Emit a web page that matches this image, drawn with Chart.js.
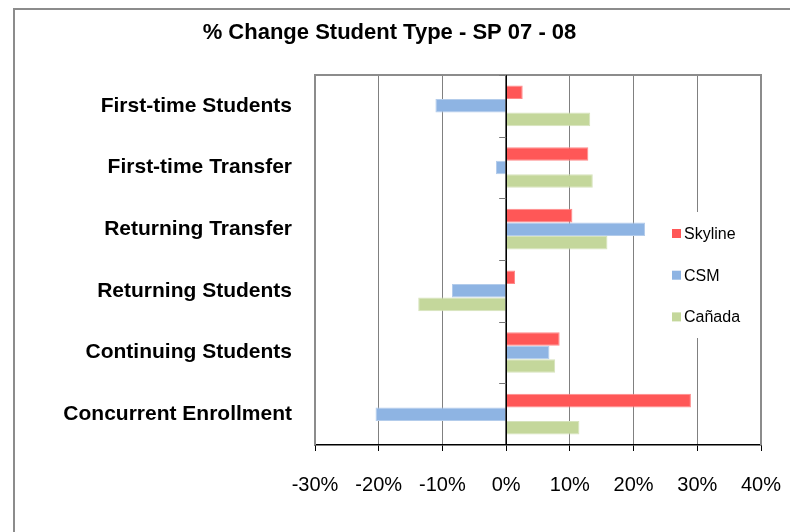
<!DOCTYPE html>
<html><head><meta charset="utf-8">
<script src="https://cdn.jsdelivr.net/npm/chart.js@4"></script>
<style>html,body{margin:0;padding:0;background:#fff}#wrap{width:790px;height:532px}</style>
</head><body><div id="wrap"><canvas id="c" width="790" height="532"></canvas></div>
<script>
const categories = ['First-time Students','First-time Transfer','Returning Transfer','Returning Students','Continuing Students','Concurrent Enrollment'];
const seriesNames = ['Skyline','CSM','Cañada'];
const skyline = [2.6, 12.9, 10.4, 1.4, 8.4, 29.0];
const csm = [-11.1, -1.6, 21.8, -8.5, 6.8, -20.5];
const canada = [13.2, 13.6, 15.9, -13.8, 7.7, 11.5];
const xTickMin = -30, xTickMax = 40, xTickStep = 10;
const titleText = '% Change Student Type - SP 07 - 08';

const FONT = '"Liberation Sans", Arial, sans-serif';
const colors = ['#FF5757', '#8EB4E3', '#C4D79B'];
const borders = ['#FF8A8A', '#B3CCEB', '#D6E3BC'];

const decor = {
  id: 'decor',
  beforeDraw(chart) {
    const ctx = chart.ctx;
    ctx.save();
    ctx.fillStyle = '#fff';
    ctx.fillRect(0, 0, chart.width, chart.height);
    ctx.strokeStyle = '#8c8c8c';
    ctx.lineWidth = 2;
    ctx.beginPath();
    ctx.moveTo(14, chart.height);
    ctx.lineTo(14, 9);
    ctx.lineTo(chart.width, 9);
    ctx.stroke();
    ctx.restore();
  },
  beforeDatasetsDraw(chart) {
    const ctx = chart.ctx, a = chart.chartArea;
    ctx.save();
    ctx.strokeStyle = '#8c8c8c';
    ctx.lineWidth = 2;
    ctx.beginPath();
    ctx.moveTo(a.left, a.bottom);
    ctx.lineTo(a.left, a.top);
    ctx.lineTo(a.right, a.top);
    ctx.lineTo(a.right, a.bottom);
    ctx.stroke();
    ctx.restore();
  },
  afterDatasetsDraw(chart) {
    const ctx = chart.ctx, a = chart.chartArea;
    const xs = chart.scales.x, ys = chart.scales.y;
    const x0 = xs.getPixelForValue(0);
    ctx.save();
    ctx.strokeStyle = '#000';
    ctx.lineWidth = 1.5;
    ctx.beginPath();
    ctx.moveTo(x0, a.top);
    ctx.lineTo(x0, a.bottom);
    ctx.stroke();
    const n = categories.length;
    ctx.strokeStyle = '#777';
    ctx.lineWidth = 1;
    for (let i = 0; i < n; i++) {
      const y = Math.round(ys.top + i * (ys.height / n)) + 0.5;
      ctx.beginPath();
      ctx.moveTo(x0 - 7, y);
      ctx.lineTo(x0, y);
      ctx.stroke();
    }
    ctx.restore();
  },
  afterDraw(chart) {
    const ctx = chart.ctx, a = chart.chartArea;
    const bx = a.right - 97, by = a.top + 137, bw = 82, bh = 126;
    ctx.save();
    ctx.fillStyle = '#fff';
    ctx.fillRect(bx, by, bw, bh);
    ctx.font = '16px ' + FONT;
    ctx.textBaseline = 'middle';
    ctx.textAlign = 'left';
    chart.data.datasets.forEach((ds, i) => {
      const cy = by + 21.5 + i * 41.7;
      ctx.fillStyle = ds.backgroundColor;
      ctx.fillRect(bx + 8, cy - 4.5, 9, 9);
      ctx.fillStyle = '#000';
      ctx.fillText(ds.label, bx + 20, cy + 1);
    });
    ctx.restore();
  }
};

const seriesData = [skyline, csm, canada];
new Chart(document.getElementById('c'), {
  type: 'bar',
  data: {
    labels: categories,
    datasets: seriesNames.map((name, i) => ({
      label: name,
      data: seriesData[i],
      backgroundColor: colors[i],
      borderColor: borders[i],
      borderWidth: 1,
      categoryPercentage: 0.66,
      barPercentage: 1.0
    }))
  },
  options: {
    indexAxis: 'y',
    responsive: false,
    animation: false,
    devicePixelRatio: 1,
    layout: { padding: { left: 18, right: 29, top: 0, bottom: 0 } },
    plugins: {
      legend: { display: false },
      tooltip: { enabled: false },
      title: {
        display: true,
        text: titleText,
        color: '#000',
        font: { family: FONT, size: 22, weight: 'bold' },
        padding: { top: 20, bottom: 28.6 }
      }
    },
    scales: {
      x: {
        type: 'linear',
        min: xTickMin,
        max: xTickMax,
        afterFit(s) { s.height = 87; s.paddingRight = 0; s.paddingLeft = 0; },
        ticks: {
          stepSize: xTickStep,
          callback: v => v + '%',
          color: '#000',
          font: { family: FONT, size: 20 },
          padding: 22,
          maxRotation: 0
        },
        grid: {
          color: c => (c.tick && c.tick.value === 0) ? '#000' : '#808080',
          lineWidth: 1,
          drawTicks: true,
          tickLength: 6,
          tickColor: '#000'
        },
        border: { display: true, color: '#000', width: 1.5 }
      },
      y: {
        type: 'category',
        afterFit(s) { s.width = 297; },
        ticks: {
          color: '#000',
          font: { family: FONT, size: 21, weight: 'bold' },
          padding: 23
        },
        grid: { display: true, drawOnChartArea: false, drawTicks: false, offset: true },
        border: { display: false }
      }
    }
  },
  plugins: [decor]
});
</script>
</body></html>
